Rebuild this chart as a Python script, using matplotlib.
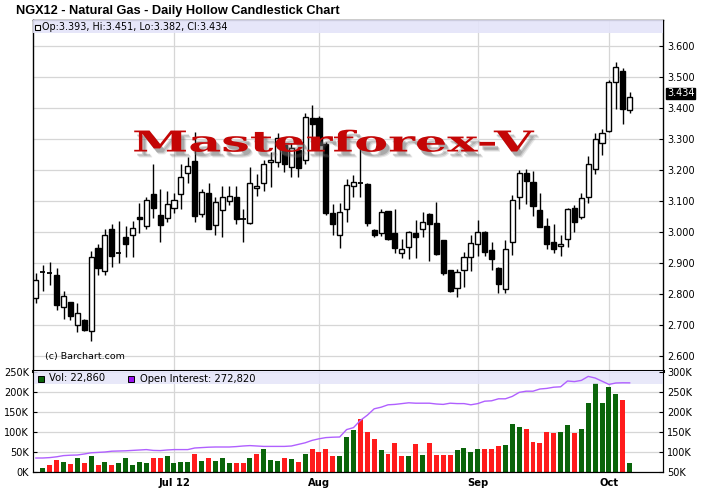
import matplotlib
matplotlib.use("Agg")
import matplotlib.pyplot as plt
import matplotlib.colors as mcolors
from matplotlib.patches import Rectangle
from matplotlib.patheffects import AbstractPathEffect
from matplotlib.transforms import Affine2D
import numpy as np

# ---------------- data ----------------
opens = [2.785, 2.869, 2.868, 2.862, 2.756, 2.772, 2.699, 2.717, 2.681, 2.949,
         2.874, 3.008, 2.929, 2.982, 2.988, 3.047, 3.019, 3.122, 3.054, 3.043,
         3.078, 3.122, 3.188, 3.229, 3.057, 3.124, 3.021, 3.070, 3.099, 3.113,
         3.041, 3.027, 3.140, 3.156, 3.226, 3.226, 3.280, 3.208, 3.263, 3.233,
         3.366, 3.366, 3.282, 3.062, 2.989, 3.072, 3.147, 3.158, 3.154, 3.005,
         2.995, 3.067, 2.995, 2.933, 2.952, 2.995, 3.008, 3.057, 3.027, 2.973,
         2.876, 2.820, 2.878, 2.919, 2.962, 2.999, 2.941, 2.882, 2.814, 2.966,
         3.111, 3.191, 3.159, 3.070, 3.018, 2.968, 2.955, 2.978, 3.078, 3.048,
         3.113, 3.201, 3.285, 3.326, 3.484, 3.519, 3.393]
highs = [2.866, 2.892, 2.903, 2.882, 2.810, 2.774, 2.769, 2.720, 2.939, 2.962,
         3.008, 3.025, 3.035, 3.019, 3.035, 3.094, 3.113, 3.218, 3.137, 3.132,
         3.124, 3.220, 3.242, 3.323, 3.137, 3.156, 3.113, 3.148, 3.148, 3.148,
         3.072, 3.210, 3.186, 3.231, 3.256, 3.317, 3.285, 3.285, 3.274, 3.382,
         3.409, 3.372, 3.290, 3.091, 3.094, 3.169, 3.183, 3.295, 3.156, 3.008,
         3.075, 3.067, 3.072, 2.978, 3.003, 3.038, 3.065, 3.061, 3.095, 2.975,
         2.878, 2.880, 2.935, 2.989, 3.038, 3.002, 2.968, 2.887, 2.973, 3.118,
         3.199, 3.202, 3.196, 3.126, 3.043, 3.025, 2.989, 3.078, 3.086, 3.124,
         3.244, 3.320, 3.333, 3.489, 3.546, 3.527, 3.451]
lows = [2.771, 2.810, 2.828, 2.749, 2.720, 2.717, 2.677, 2.681, 2.648, 2.860,
        2.860, 2.887, 2.900, 2.919, 2.919, 2.995, 3.008, 3.043, 2.968, 3.030,
        3.061, 3.074, 3.156, 3.033, 3.048, 3.008, 2.991, 2.984, 3.085, 3.024,
        2.968, 3.025, 3.116, 3.132, 3.145, 3.210, 3.194, 3.177, 3.177, 3.220,
        3.306, 3.270, 3.055, 2.991, 2.948, 3.030, 3.113, 3.111, 3.018, 2.982,
        2.986, 2.973, 2.930, 2.914, 2.911, 2.917, 2.984, 2.906, 2.925, 2.860,
        2.806, 2.790, 2.821, 2.874, 2.922, 2.922, 2.878, 2.803, 2.803, 2.925,
        3.075, 3.091, 3.052, 3.014, 2.946, 2.930, 2.923, 2.952, 3.000, 3.041,
        3.094, 3.186, 3.247, 3.323, 3.395, 3.349, 3.382]
closes = [2.846, 2.872, 2.865, 2.763, 2.794, 2.729, 2.737, 2.683, 2.919, 2.884,
          2.991, 2.923, 2.931, 2.962, 3.011, 3.040, 3.101, 3.077, 3.023, 3.091,
          3.101, 3.178, 3.212, 3.052, 3.127, 3.010, 3.096, 3.113, 3.116, 3.040,
          3.039, 3.156, 3.147, 3.220, 3.233, 3.301, 3.217, 3.269, 3.206, 3.371,
          3.349, 3.280, 3.062, 3.024, 3.065, 3.151, 3.159, 3.156, 3.027, 2.989,
          3.065, 2.978, 2.948, 2.946, 2.999, 2.982, 3.030, 3.024, 2.928, 2.866,
          2.810, 2.869, 2.919, 2.964, 3.000, 2.935, 2.911, 2.833, 2.943, 3.104,
          3.191, 3.165, 3.084, 3.016, 2.960, 2.945, 2.962, 3.073, 3.032, 3.108,
          3.217, 3.298, 3.320, 3.482, 3.532, 3.395, 3.434]
# volume in thousands (first session shows no bar)
volumes = [0, 10.8, 16.7, 29, 24, 21, 34, 22, 41, 18,
           24, 18, 22, 36, 17, 24, 22, 34, 34, 39,
           22, 24, 24, 44, 27, 34, 27, 36, 22, 22,
           22, 36, 44, 57, 29, 27, 36, 32, 24, 44,
           57, 49, 57, 39, 39, 87, 104, 132, 100, 82,
           54, 46, 72, 39, 39, 69, 42, 72, 42, 42,
           42, 54, 61, 49, 57, 57, 57, 64, 67, 119,
           112, 107, 74, 72, 99, 97, 99, 117, 97, 107,
           172, 223, 172, 212, 196, 179, 22.86]
vol_dir = "GGRRGRGRGRGRGGGGGRRGGGGRGRGGGRRGRGGGRGRGRRRRGGGRRRGRRRGRGRRRRGGGGRRRGGGRRRRRGGRGGGGGGRG"
# open interest in thousands
open_interest = [85, 85, 86, 88, 91, 92, 92.5, 95, 98, 99,
                 100, 102, 102.5, 103, 104, 105, 106, 104, 103.5, 105,
                 106, 106, 106, 110, 111, 112, 112.5, 112.5, 112.5, 113.5,
                 115, 116, 115, 114, 114, 114, 114, 115, 119, 123,
                 129, 133, 136, 137, 137.5, 156, 161, 179, 192, 208,
                 212, 218, 219, 221, 223, 222, 222, 222, 220, 219,
                 222, 221, 221, 218, 221, 227, 228, 233, 233, 239,
                 249, 252, 252, 257.5, 259, 262, 263, 277.5, 276, 279,
                 289, 285, 277, 269, 272.5, 273, 272.82]
month_pos = [20, 41, 64, 83]
month_labels = ["Jul 12", "Aug", "Sep", "Oct"]
price_ticks = [2.6, 2.7, 2.8, 2.9, 3.0, 3.1, 3.2, 3.3, 3.4, 3.5, 3.6]
vol_ticks = [0, 50, 100, 150, 200, 250]
oi_ticks = [50, 100, 150, 200, 250, 300]

# ---------------- layout ----------------
W, H = 708, 490
fig = plt.figure(figsize=(W / 100, H / 100), dpi=100)
fig.patch.set_facecolor("white")


def fx(px):
    return px / W


def fy(py):
    return 1 - py / H


L, R = 33, 663
T1, B1 = 20, 371
T2, B2 = 371, 472
GRID = "#d6d6d6"
BAND = "#e4e4f9"
SANS = ["DejaVu Sans"]

ax = fig.add_axes([fx(L), fy(B1), fx(R) - fx(L), fy(T1) - fy(B1)])
axv = fig.add_axes([fx(L), fy(B2), fx(R) - fx(L), fy(T2) - fy(B2)])
axo = axv.twinx()

n = len(closes)
idx = np.arange(n)
xlim = (-0.42, 90.83)

# ---------------- price panel ----------------
ax.set_xlim(*xlim)
ax.set_ylim(2.551, 3.683)
ax.set_yticks(price_ticks)
ax.set_yticklabels(["%.3f" % v for v in price_ticks])
ax.yaxis.tick_right()
ax.tick_params(axis="y", direction="in", length=3, pad=3, labelsize=7, colors="black")
ax.set_xticks(month_pos)
ax.tick_params(axis="x", length=0, labelbottom=False)
ax.grid(True, color=GRID, lw=0.9, zorder=0)
ax.set_axisbelow(True)
for s in ["left", "top", "right"]:
    ax.spines[s].set_linewidth(1)
ax.spines["bottom"].set_linewidth(2.2)
for lab in ax.get_yticklabels():
    lab.set_family(SANS)

bw = 0.74
for i in range(n):
    o, h, l, c = opens[i], highs[i], lows[i], closes[i]
    ax.vlines(i, l, h, color="black", lw=1, zorder=2)
    if abs(c - o) < 0.004:
        ax.hlines((o + c) / 2, i - bw / 2, i + bw / 2, color="black", lw=1.3, zorder=3)
    else:
        up = c > o
        ax.add_patch(Rectangle((i - bw / 2, min(o, c)), bw, abs(c - o),
                               facecolor="white" if up else "black",
                               edgecolor="black", lw=1, zorder=3))

ax.add_patch(Rectangle((0, 1 - 13 / (B1 - T1)), 1, 13 / (B1 - T1), transform=ax.transAxes,
                       facecolor=BAND, edgecolor="none", alpha=0.9, zorder=4))
ax.add_patch(Rectangle((2 / (R - L), 1 - 9.5 / (B1 - T1)), 5 / (R - L), 5 / (B1 - T1),
                       transform=ax.transAxes, facecolor="white", edgecolor="black",
                       lw=0.8, zorder=5))
ax.text(9.5 / (R - L), 1 - 6.5 / (B1 - T1),
        "Op:%.3f, Hi:%.3f, Lo:%.3f, Cl:%.3f" % (opens[-1], highs[-1], lows[-1], closes[-1]),
        transform=ax.transAxes, fontsize=6.9, va="center", ha="left", family=SANS, zorder=6)
ax.text(12 / (R - L), 14 / (B1 - T1), "(c) Barchart.com", transform=ax.transAxes,
        fontsize=6.8, va="center", ha="left", family=SANS, zorder=6)
# last price tag
ax.text(1 + 4 / (R - L), closes[-1] + 0.012, "%.3f" % closes[-1], transform=ax.get_yaxis_transform(),
        fontsize=7, color="white", va="center", ha="left", family=SANS, clip_on=False,
        bbox=dict(boxstyle="square,pad=0.1", facecolor="black", edgecolor="black"), zorder=10)

# ---------------- volume panel ----------------
axv.set_xlim(*xlim)
axv.set_ylim(0, 252.5)
axv.set_yticks(vol_ticks)
axv.set_yticklabels(["%dK" % v for v in vol_ticks])
axv.tick_params(axis="y", direction="in", length=3, pad=3, labelsize=7)
axv.set_xticks(month_pos)
axv.set_xticklabels(month_labels, fontsize=7.2, fontweight="bold", family=SANS)
axv.tick_params(axis="x", length=0, pad=4)
axv.grid(True, color=GRID, lw=0.9, zorder=0)
axv.set_axisbelow(True)
axv.spines["top"].set_visible(False)
for lab in axv.get_yticklabels():
    lab.set_family(SANS)

colors = ["#0a640a" if d == "G" else "#ff1c1c" for d in vol_dir]
axv.bar(idx, volumes, width=0.72, color=colors, zorder=2)
axv.add_patch(Rectangle((0, 1 - 13 / (B2 - T2)), 1, 13 / (B2 - T2), transform=axv.transAxes,
                        facecolor=BAND, edgecolor="none", alpha=0.85, zorder=4))

axo.set_ylim(50, 302.5)
axo.set_yticks(oi_ticks)
axo.set_yticklabels(["%dK" % v for v in oi_ticks])
axo.tick_params(axis="y", direction="in", length=3, pad=3, labelsize=7)
for lab in axo.get_yticklabels():
    lab.set_family(SANS)
axo.spines["top"].set_visible(False)
axo.plot(idx, open_interest, color="#b060ff", lw=1, zorder=3)

# volume legend
axo.add_patch(Rectangle((5 / (R - L), 1 - 10.5 / (B2 - T2)), 6 / (R - L), 6 / (B2 - T2),
                        transform=axo.transAxes, facecolor="#0a640a", edgecolor="black",
                        lw=0.7, zorder=6, clip_on=False))
axo.text(16 / (R - L), 1 - 7.5 / (B2 - T2), "Vol: 22,860", transform=axo.transAxes,
         fontsize=7.2, va="center", ha="left", family=SANS, zorder=6)
axo.add_patch(Rectangle((95 / (R - L), 1 - 10.5 / (B2 - T2)), 6 / (R - L), 6 / (B2 - T2),
                        transform=axo.transAxes, facecolor="#9a10f0", edgecolor="black",
                        lw=0.7, zorder=6, clip_on=False))
axo.text(107 / (R - L), 1 - 7.5 / (B2 - T2), "Open Interest: 272,820", transform=axo.transAxes,
         fontsize=7.2, va="center", ha="left", family=SANS, zorder=6)

# ---------------- title ----------------
fig.text(fx(16), fy(11), "NGX12 - Natural Gas - Daily Hollow Candlestick Chart",
         fontsize=9.2, fontweight="bold", family=["Liberation Sans", "DejaVu Sans"],
         va="center", ha="left")


# ---------------- watermark (real text, stretched horizontally) ----------------
class Stretch(AbstractPathEffect):
    def __init__(self, target_px, offset=(0, 0), color="#c40000", alpha=1.0):
        super().__init__()
        self.target_px = target_px
        self.off = offset
        self.color = color
        self.alpha = alpha

    def draw_path(self, renderer, gc, tpath, affine, rgbFace=None):
        ext = affine.transform_path(tpath).get_extents()
        scale = renderer.points_to_pixels(72.0) / 100.0
        sx = self.target_px * scale / ext.width
        ox, oy = self.off[0] * scale, -self.off[1] * scale
        tr = affine + Affine2D().translate(-ext.x0, 0).scale(sx, 1).translate(ext.x0 + ox, oy)
        gc0 = renderer.new_gc()
        gc0.copy_properties(gc)
        gc0.set_alpha(self.alpha)
        gc0.set_linewidth(0)
        renderer.draw_path(gc0, tpath, tr, mcolors.to_rgba(self.color))
        gc0.restore()


wm = fig.text(fx(133), fy(151.5), "Masterforex-V", fontsize=20.7, fontweight="bold",
              family=["DejaVu Serif"], ha="left", va="baseline", zorder=20)
wm.set_path_effects([
    Stretch(400, offset=(5, 6), color="#808080", alpha=0.18),
    Stretch(400, offset=(4, 5), color="#707070", alpha=0.25),
    Stretch(400, offset=(3, 4), color="#606060", alpha=0.3),
    Stretch(400, offset=(0, 0), color="#c40606", alpha=1.0),
])

fig.savefig("out.png", dpi=100, facecolor="white")
